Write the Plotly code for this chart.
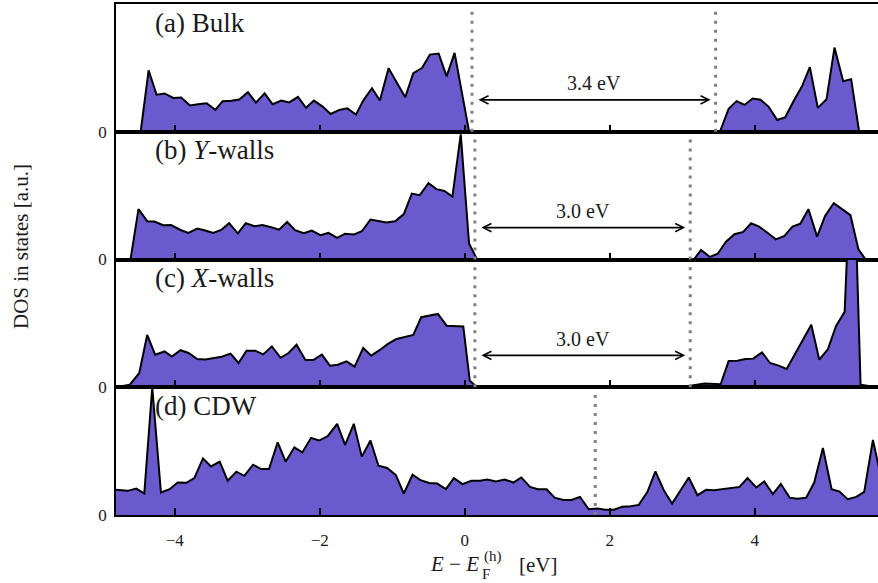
import plotly.graph_objects as go
from plotly.subplots import make_subplots

# Energy grid (eV relative to E_F^(h)) and DOS (arbitrary units) for each system
e_bulk = [-4.81, -4.47, -4.36, -4.25, -4.14, -4.02, -3.91, -3.79, -3.68, -3.56,
          -3.44, -3.34, -3.22, -3.11, -2.99, -2.88, -2.76, -2.65, -2.53, -2.42,
          -2.30, -2.19, -2.08, -1.96, -1.85, -1.73, -1.62, -1.50, -1.40, -1.28,
          -1.17, -1.05, -0.94, -0.82, -0.71, -0.59, -0.48, -0.36, -0.25, -0.14,
          0.06, 3.52, 3.64, 3.75, 3.86, 3.97, 4.08, 4.19, 4.31, 4.42,
          4.54, 4.65, 4.76, 4.87, 4.99, 5.10, 5.22, 5.33, 5.44, 5.70]
dos_bulk = [0, 0, 0.48, 0.29, 0.30, 0.265, 0.268, 0.205, 0.215, 0.223,
            0.171, 0.239, 0.242, 0.252, 0.31, 0.228, 0.30, 0.215, 0.244, 0.23,
            0.273, 0.187, 0.244, 0.197, 0.139, 0.171, 0.183, 0.134, 0.244, 0.341,
            0.244, 0.498, 0.388, 0.27, 0.459, 0.498, 0.604, 0.612, 0.433, 0.617,
            0, 0, 0.18, 0.24, 0.21, 0.26, 0.25, 0.197, 0.092, 0.113,
            0.244, 0.354, 0.506, 0.187, 0.254, 0.659, 0.396, 0.412, 0, 0]

e_ywalls = [-4.81, -4.61, -4.50, -4.38, -4.28, -4.16, -4.05, -3.92, -3.81, -3.69,
            -3.59, -3.47, -3.36, -3.25, -3.13, -3.02, -2.90, -2.79, -2.67, -2.56,
            -2.45, -2.34, -2.22, -2.11, -1.99, -1.88, -1.76, -1.65, -1.53, -1.42,
            -1.30, -1.19, -1.08, -0.96, -0.84, -0.73, -0.62, -0.50, -0.39, -0.28,
            -0.17, -0.055, 0.06, 0.17, 3.16, 3.26, 3.38, 3.49, 3.60, 3.72,
            3.84, 3.95, 4.06, 4.18, 4.29, 4.41, 4.52, 4.63, 4.74, 4.86,
            4.97, 5.09, 5.20, 5.32, 5.43, 5.53, 5.70]
dos_ywalls = [0, 0, 0.394, 0.30, 0.297, 0.268, 0.27, 0.231, 0.208, 0.242,
              0.229, 0.208, 0.231, 0.284, 0.205, 0.284, 0.26, 0.27, 0.252, 0.234,
              0.294, 0.229, 0.205, 0.226, 0.19, 0.208, 0.169, 0.202, 0.195, 0.221,
              0.312, 0.302, 0.289, 0.30, 0.355, 0.516, 0.504, 0.598, 0.551, 0.537,
              0.493, 0.98, 0.125, 0, 0, 0.075, 0.02, 0.045, 0.137, 0.198,
              0.216, 0.284, 0.257, 0.208, 0.158, 0.184, 0.257, 0.281, 0.394, 0.179,
              0.341, 0.441, 0.394, 0.347, 0.08, 0, 0]

e_xwalls = [-4.81, -4.62, -4.49, -4.38, -4.27, -4.14, -4.04, -3.92, -3.81, -3.69,
            -3.58, -3.46, -3.35, -3.23, -3.12, -3.01, -2.89, -2.78, -2.66, -2.54,
            -2.43, -2.32, -2.20, -2.09, -1.97, -1.86, -1.75, -1.63, -1.52, -1.40,
            -1.29, -1.17, -1.06, -0.94, -0.83, -0.71, -0.60, -0.48, -0.37, -0.25,
            -0.14, -0.02, 0.07, 0.17, 2.98, 3.11, 3.31, 3.53, 3.64, 3.76,
            3.87, 3.98, 4.10, 4.21, 4.33, 4.44, 4.55, 4.67, 4.78, 4.89,
            5.01, 5.12, 5.24, 5.35, 5.46, 5.57, 5.70]
dos_xwalls = [0, 0.02, 0.11, 0.41, 0.255, 0.28, 0.24, 0.29, 0.268, 0.221,
              0.218, 0.226, 0.239, 0.263, 0.19, 0.286, 0.286, 0.257, 0.32, 0.231,
              0.268, 0.333, 0.216, 0.213, 0.255, 0.169, 0.176, 0.202, 0.161, 0.307,
              0.247, 0.292, 0.339, 0.378, 0.394, 0.41, 0.548, 0.561, 0.574, 0.482,
              0.48, 0.475, 0.05, 0, 0, 0.01, 0.03, 0.023, 0.205, 0.208,
              0.221, 0.224, 0.273, 0.19, 0.169, 0.143, 0.255, 0.372, 0.489, 0.216,
              0.299, 0.478, 0.59, 2.1, 0.02, 0.01, 0.005]

e_cdw = [-4.81, -4.65, -4.53, -4.42, -4.31, -4.19, -4.07, -3.96, -3.84, -3.73,
         -3.61, -3.50, -3.38, -3.27, -3.15, -3.04, -2.92, -2.81, -2.70, -2.58,
         -2.47, -2.35, -2.24, -2.12, -2.01, -1.89, -1.76, -1.65, -1.53, -1.42,
         -1.30, -1.19, -1.07, -0.95, -0.84, -0.72, -0.61, -0.49, -0.38, -0.26,
         -0.15, -0.03, 0.09, 0.21, 0.31, 0.43, 0.55, 0.67, 0.78, 0.90,
         1.01, 1.13, 1.24, 1.36, 1.47, 1.59, 1.71, 1.83, 1.94, 2.06,
         2.17, 2.29, 2.40, 2.52, 2.63, 2.75, 2.86, 2.98, 3.09, 3.21,
         3.33, 3.44, 3.56, 3.67, 3.79, 3.90, 4.02, 4.13, 4.25, 4.36,
         4.48, 4.59, 4.71, 4.82, 4.94, 5.06, 5.17, 5.28, 5.40, 5.51,
         5.63, 5.74]
dos_cdw = [0.197, 0.189, 0.207, 0.168, 1.0, 0.176, 0.202, 0.254, 0.252, 0.289,
           0.443, 0.38, 0.417, 0.268, 0.339, 0.307, 0.394, 0.36, 0.36, 0.569,
           0.417, 0.53, 0.49, 0.604, 0.583, 0.617, 0.714, 0.549, 0.714, 0.457,
           0.583, 0.386, 0.368, 0.313, 0.168, 0.315, 0.273, 0.25, 0.246, 0.202,
           0.289, 0.242, 0.268, 0.268, 0.278, 0.262, 0.278, 0.254, 0.294, 0.22,
           0.202, 0.202, 0.136, 0.118, 0.118, 0.142, 0.045, 0.05, 0.042, 0.042,
           0.065, 0.068, 0.079, 0.181, 0.341, 0.189, 0.089, 0.194, 0.294, 0.155,
           0.197, 0.194, 0.202, 0.215, 0.22, 0.289, 0.215, 0.262, 0.163, 0.242,
           0.136, 0.128, 0.136, 0.254, 0.525, 0.202, 0.183, 0.124, 0.142, 0.181,
           0.588, 0.30]

panel_titles = ["(a) Bulk", "(b) <i>Y</i>-walls", "(c) <i>X</i>-walls", "(d) CDW"]
energies = [e_bulk, e_ywalls, e_xwalls, e_cdw]
dos = [dos_bulk, dos_ywalls, dos_xwalls, dos_cdw]

# Band edges (eV); the CDW panel only marks the Fermi level
vbm = [0.10, 0.14, 0.14, None]
cbm = [3.46, 3.11, 3.11, None]
fermi_cdw = 1.80

x_ticks = [-4, -2, 0, 2, 4]
x_range = [-4.81, 5.70]

FONT = "Liberation Serif, DejaVu Serif, serif"
INK = "#1a1a1a"
FILL = "#6a5acd"

fig = make_subplots(rows=4, cols=1, shared_xaxes=True, vertical_spacing=0)

for i in range(4):
    r = i + 1
    fig.add_trace(go.Scatter(x=energies[i], y=dos[i], mode="lines",
                             line=dict(color="black", width=2),
                             fill="tozeroy", fillcolor=FILL,
                             showlegend=False, hoverinfo="skip"),
                  row=r, col=1)
    xa = "x" if r == 1 else f"x{r}"
    ya = "y" if r == 1 else f"y{r}"
    fig.add_annotation(text=panel_titles[i], xref=f"{xa} domain", yref=f"{ya} domain",
                       x=0.049, y=0.855, xanchor="left", yanchor="middle",
                       showarrow=False, font=dict(family=FONT, size=27, color=INK))

    edges = [vbm[i], cbm[i]] if vbm[i] is not None else [fermi_cdw]
    for xv in edges:
        fig.add_shape(type="line", xref=xa, yref=f"{ya} domain",
                      x0=xv, x1=xv, y0=0, y1=0.955,
                      line=dict(color="#808080", width=3, dash="3px,6px"))

    if vbm[i] is not None:
        gap = cbm[i] - vbm[i]
        fig.add_annotation(x=cbm[i], y=0.25, ax=vbm[i], ay=0.25,
                           xref=xa, yref=ya, axref=xa, ayref=ya,
                           text="", showarrow=True, arrowside="end+start",
                           arrowhead=5, startarrowhead=5, arrowsize=0.9,
                           arrowwidth=1.8, arrowcolor="black",
                           standoff=5, startstandoff=5)
        fig.add_annotation(x=(vbm[i] + cbm[i]) / 2, y=0.38, xref=xa, yref=ya,
                           text=f"{gap:.1f} eV", showarrow=False,
                           font=dict(family=FONT, size=20, color=INK))

    fig.update_yaxes(row=r, col=1, range=[0, 1], tickvals=[0], ticktext=["0"],
                     ticks="", showline=True, linecolor="black", linewidth=1.8,
                     showgrid=False, zeroline=False, fixedrange=True,
                     ticklabelstandoff=4,
                     tickfont=dict(family=FONT, size=17, color=INK))
    fig.update_xaxes(row=r, col=1, range=x_range, tickvals=x_ticks,
                     ticktext=[f"\u2212{abs(t)}" if t < 0 else str(t) for t in x_ticks],
                     ticks="inside", ticklen=7, tickwidth=1.5, tickcolor="black",
                     showline=True, mirror=True, linecolor="black", linewidth=1.8,
                     showgrid=False, zeroline=False,
                     showticklabels=(r == 4), ticklabelstandoff=9,
                     tickfont=dict(family=FONT, size=17, color=INK))


def px_x(px):
    """Horizontal pixel position -> paper coordinate."""
    return (px - 116) / 762


def px_y(py):
    """Vertical pixel position -> paper coordinate."""
    return (515 - py) / 511


fig.add_annotation(text="DOS in states [a.u.]", xref="paper", yref="paper",
                   x=px_x(21), y=px_y(247), textangle=-90, showarrow=False,
                   xanchor="center", yanchor="middle",
                   font=dict(family=FONT, size=21, color=INK))

# Axis title E - E_F^(h) [eV], with the sub- and superscript stacked
title_parts = [
    ("<i>E</i>\u00a0\u2212\u00a0<i>E</i>", 481, 564, 21, "right"),
    ("F", 480, 574, 15, "left"),
    ("(h)", 482, 556, 15, "left"),
    ("[eV]", 517, 565, 21, "left"),
]
for txt, px, py, size, anchor in title_parts:
    fig.add_annotation(text=txt, xref="paper", yref="paper",
                       x=px_x(px), y=px_y(py), showarrow=False,
                       xanchor=anchor, yanchor="middle",
                       font=dict(family=FONT, size=size, color=INK))

fig.update_layout(width=878, height=583, margin=dict(l=116, r=0, t=4, b=68),
                  paper_bgcolor="white", plot_bgcolor="white")

fig.write_html("out.html")
